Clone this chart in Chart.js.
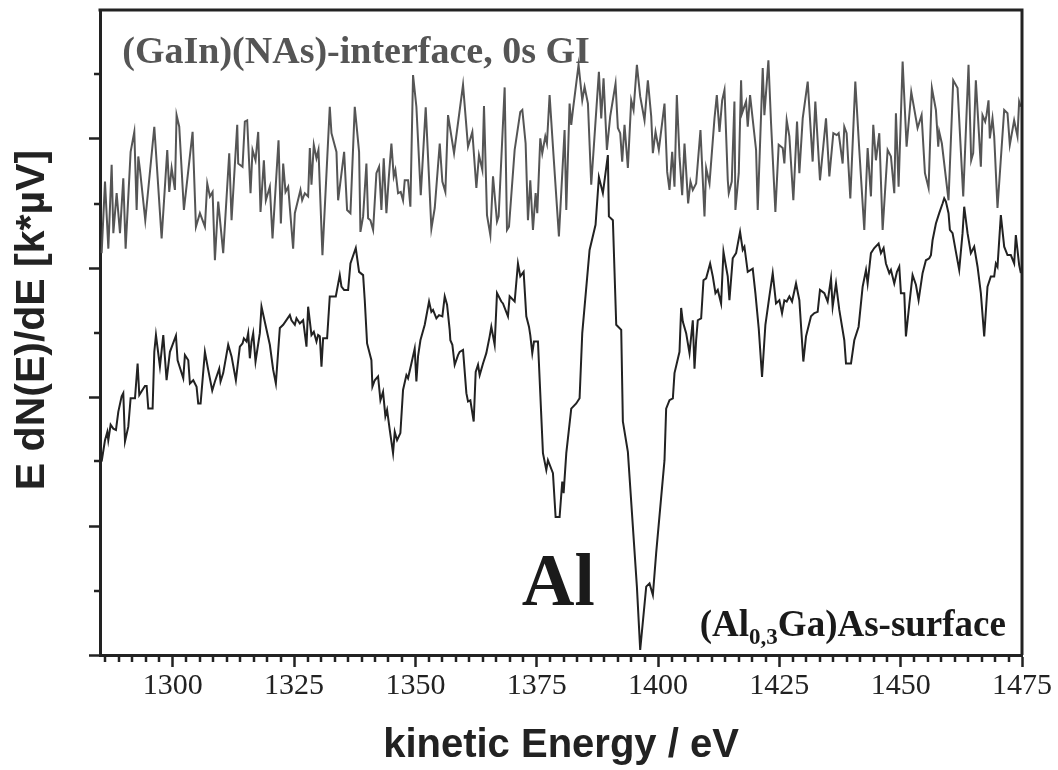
<!DOCTYPE html>
<html>
<head>
<meta charset="utf-8">
<script src="https://cdn.jsdelivr.net/npm/chart.js@4.4.0/dist/chart.umd.min.js"></script>
<style>
	html, body { margin: 0; padding: 0; background: #fff; }
	#spectrum { display: block; }
</style>
</head>
<body>
<canvas id="spectrum" width="1058" height="770"></canvas>
<script>
const xTicks = [ 1300, 1325, 1350, 1375, 1400, 1425, 1450, 1475 ];
const yMajor = [ 0, 2, 4, 6, 8 ];
const yMinor = [ 1, 3, 5, 7, 9 ];

// (GaIn)(NAs)-interface, 0s GI  (grey, upper trace)
const interfaceEnergy = [
	1285.34, 1286.03, 1286.72, 1287.40, 1287.75, 1288.43, 1289.12, 1289.80, 1290.28, 1291.31,
	1292.07, 1292.55, 1292.89, 1293.24, 1294.33, 1296.19, 1297.70, 1298.86, 1299.27, 1299.76,
	1300.44, 1300.78, 1301.33, 1302.29, 1304.08, 1304.77, 1305.59, 1306.62, 1307.10, 1307.65,
	1308.20, 1308.68, 1309.36, 1310.39, 1311.63, 1312.11, 1313.28, 1313.48, 1314.37, 1314.85,
	1315.33, 1316.02, 1316.43, 1317.05, 1317.60, 1318.08, 1318.77, 1319.18, 1320.00, 1320.55,
	1321.79, 1322.27, 1322.75, 1323.23, 1323.78, 1324.80, 1325.15, 1326.31, 1326.66, 1327.21,
	1327.89, 1328.24, 1328.58, 1329.06, 1329.61, 1330.02, 1330.84, 1332.35, 1332.70, 1333.73,
	1334.07, 1335.31, 1335.92, 1336.61, 1337.50, 1338.39, 1338.67, 1339.22, 1339.90, 1340.25,
	1340.73, 1341.28, 1341.96, 1342.51, 1342.99, 1343.47, 1344.02, 1344.50, 1345.05, 1345.53,
	1345.87, 1346.42, 1346.97, 1347.45, 1347.80, 1348.48, 1348.96, 1349.51, 1350.20, 1351.10,
	1352.12, 1353.29, 1353.98, 1355.01, 1355.55, 1356.17, 1356.72, 1357.96, 1359.81, 1360.84,
	1361.73, 1362.56, 1363.10, 1363.79, 1364.13, 1364.75, 1365.44, 1365.99, 1366.81, 1367.15,
	1368.39, 1368.87, 1369.28, 1370.45, 1371.61, 1372.03, 1372.71, 1373.19, 1373.67, 1374.22,
	1374.77, 1375.11, 1375.73, 1376.14, 1376.76, 1377.10, 1377.65, 1378.34, 1379.57, 1380.74,
	1381.09, 1381.77, 1382.11, 1382.46, 1383.62, 1384.38, 1384.86, 1385.55, 1386.23, 1387.81,
	1388.29, 1388.77, 1389.46, 1390.14, 1391.24, 1391.72, 1392.20, 1392.61, 1393.09, 1393.78,
	1394.47, 1394.95, 1395.64, 1396.32, 1397.21, 1397.90, 1398.59, 1398.93, 1399.48, 1400.16,
	1401.33, 1401.88, 1402.36, 1402.91, 1403.39, 1403.87, 1404.42, 1404.97, 1405.45, 1406.20,
	1406.68, 1407.16, 1407.85, 1408.74, 1409.57, 1409.91, 1410.60, 1411.63, 1412.11, 1412.66,
	1413.21, 1413.69, 1414.37, 1414.57, 1415.19, 1415.74, 1415.94, 1416.63, 1417.11, 1417.31,
	1418.14, 1418.48, 1418.96, 1420.20, 1420.54, 1421.57, 1421.91, 1422.74, 1423.29, 1424.18,
	1424.86, 1425.69, 1426.03, 1426.51, 1427.06, 1427.88, 1428.64, 1429.12, 1429.81, 1430.84,
	1431.86, 1432.41, 1433.37, 1434.61, 1435.30, 1436.12, 1436.81, 1437.22, 1438.04, 1438.38,
	1438.86, 1439.62, 1440.65, 1441.47, 1442.50, 1443.19, 1443.87, 1444.35, 1444.90, 1445.59,
	1446.28, 1447.31, 1447.99, 1448.68, 1449.02, 1449.57, 1450.40, 1451.22, 1452.18, 1453.48,
	1454.31, 1455.00, 1455.75, 1456.43, 1457.26, 1457.74, 1457.94, 1458.49, 1459.86, 1460.83,
	1461.72, 1462.89, 1463.98, 1464.53, 1464.94, 1465.49, 1466.52, 1466.86, 1467.41, 1467.69,
	1468.10, 1468.37, 1468.92, 1469.27, 1469.95, 1471.33, 1472.01, 1472.49, 1473.38, 1474.07,
	1474.41, 1474.75
];
const interfaceSignal = [
	6.23, 7.34, 6.30, 7.60, 6.54, 7.16, 6.54, 7.39, 6.30, 7.80,
	8.11, 6.90, 7.73, 7.52, 6.74, 8.19, 6.46, 7.83, 7.18, 7.55,
	7.21, 8.37, 8.19, 6.90, 8.11, 6.64, 6.85, 6.64, 7.31, 7.11,
	7.18, 6.12, 7.03, 6.23, 7.78, 6.74, 8.22, 7.62, 7.57, 8.27,
	8.29, 7.16, 7.83, 7.67, 8.11, 6.87, 7.67, 7.05, 7.26, 6.46,
	7.98, 6.69, 7.62, 7.18, 7.26, 6.30, 6.85, 7.21, 7.05, 7.16,
	7.11, 7.86, 7.29, 7.91, 7.70, 7.83, 6.20, 8.50, 8.09, 7.80,
	7.05, 7.80, 6.90, 6.85, 8.50, 7.80, 6.56, 6.80, 7.62, 6.77,
	6.74, 6.59, 7.47, 7.57, 6.90, 7.70, 6.85, 7.39, 7.93, 7.42,
	7.52, 7.16, 7.18, 7.05, 7.36, 7.36, 6.95, 8.99, 8.50, 7.13,
	8.49, 6.61, 6.93, 7.93, 7.34, 7.18, 8.37, 7.78, 8.84, 7.88,
	8.11, 7.24, 7.75, 7.52, 8.51, 6.82, 6.51, 7.42, 6.72, 6.80,
	8.80, 6.59, 6.64, 7.83, 8.42, 8.45, 7.93, 6.74, 7.36, 6.59,
	7.16, 6.85, 8.01, 7.78, 8.04, 7.93, 8.68, 7.88, 6.49, 8.14,
	6.90, 8.55, 8.22, 8.45, 9.15, 8.60, 8.81, 8.55, 7.29, 9.04,
	8.32, 8.94, 7.83, 8.35, 8.86, 8.17, 8.09, 7.65, 8.22, 7.55,
	8.60, 8.45, 9.15, 8.66, 8.29, 8.91, 8.35, 7.78, 8.11, 7.83,
	8.55, 7.49, 7.21, 7.80, 7.26, 8.68, 7.73, 7.13, 7.93, 7.00,
	7.34, 7.21, 7.31, 8.14, 6.80, 7.55, 7.31, 8.32, 8.68, 8.11,
	8.60, 8.76, 7.36, 7.16, 7.34, 8.58, 6.90, 7.47, 8.91, 8.40,
	8.58, 8.19, 8.68, 7.83, 6.90, 9.10, 8.37, 9.22, 8.24, 6.87,
	7.91, 7.86, 7.62, 8.29, 8.04, 7.05, 8.27, 7.47, 8.32, 8.89,
	7.65, 8.58, 7.36, 8.32, 7.42, 8.09, 8.06, 8.09, 7.62, 8.19,
	8.09, 7.08, 8.89, 7.83, 6.59, 7.86, 7.11, 8.22, 7.67, 8.09,
	6.59, 7.83, 7.73, 7.16, 8.40, 7.26, 9.20, 7.88, 8.73, 8.17,
	8.37, 7.47, 7.24, 8.79, 8.45, 7.88, 8.11, 7.93, 7.05, 8.91,
	8.79, 7.11, 9.15, 7.67, 7.78, 8.91, 7.57, 8.37, 8.27, 8.37,
	8.60, 8.01, 8.32, 8.04, 6.93, 8.45, 8.40, 7.91, 8.29, 8.04,
	8.58, 8.50
];

// (Al0,3Ga)As-surface  (black, lower trace)
const surfaceEnergy = [
	1285.34, 1286.03, 1286.51, 1286.71, 1287.19, 1287.74, 1288.29, 1288.77, 1289.46, 1289.80,
	1290.15, 1290.83, 1291.31, 1292.21, 1292.75, 1293.10, 1294.26, 1294.61, 1294.95, 1295.84,
	1296.19, 1296.53, 1297.35, 1298.04, 1298.72, 1299.41, 1300.65, 1300.99, 1302.16, 1302.50,
	1303.19, 1303.53, 1304.22, 1304.90, 1305.24, 1305.73, 1306.62, 1307.30, 1308.13, 1308.68,
	1309.57, 1309.84, 1310.39, 1311.42, 1312.11, 1313.00, 1313.82, 1314.37, 1314.65, 1315.20,
	1315.54, 1315.88, 1316.23, 1316.57, 1317.05, 1317.94, 1318.28, 1320.00, 1320.69, 1321.24,
	1322.06, 1322.75, 1324.12, 1324.46, 1325.15, 1325.49, 1326.18, 1326.86, 1327.55, 1327.89,
	1328.58, 1329.06, 1329.61, 1329.95, 1330.30, 1330.64, 1330.98, 1331.80, 1332.35, 1333.59,
	1334.41, 1334.76, 1335.30, 1336.13, 1336.61, 1337.71, 1338.39, 1339.22, 1339.56, 1340.04,
	1340.93, 1341.14, 1341.62, 1342.30, 1342.79, 1343.33, 1343.81, 1344.16, 1344.71, 1345.39,
	1345.74, 1346.22, 1346.90, 1347.45, 1348.14, 1348.48, 1349.17, 1349.85, 1350.20, 1350.54,
	1351.03, 1351.92, 1352.81, 1353.29, 1353.63, 1354.32, 1354.87, 1355.55, 1356.04, 1356.52,
	1357.06, 1357.20, 1357.61, 1358.09, 1358.78, 1359.12, 1359.81, 1360.50, 1360.84, 1361.32,
	1362.01, 1362.42, 1362.90, 1363.24, 1363.93, 1364.61, 1365.30, 1365.64, 1366.33, 1366.81,
	1367.70, 1368.04, 1369.07, 1369.42, 1370.45, 1371.13, 1371.61, 1372.30, 1372.85, 1373.40,
	1373.67, 1374.08, 1374.43, 1375.25, 1376.28, 1376.97, 1377.31, 1378.34, 1378.89, 1379.71,
	1380.26, 1380.54, 1381.09, 1382.11, 1383.14, 1383.83, 1384.38, 1385.89, 1387.12, 1387.81,
	1388.63, 1389.66, 1389.87, 1390.69, 1391.38, 1392.41, 1392.75, 1393.78, 1395.64, 1396.32,
	1397.56, 1398.24, 1398.93, 1399.61, 1401.33, 1401.67, 1402.36, 1403.05, 1403.39, 1404.42,
	1404.76, 1405.10, 1405.79, 1406.48, 1407.16, 1407.51, 1407.85, 1408.19, 1408.88, 1409.36,
	1409.91, 1410.73, 1411.28, 1411.83, 1412.31, 1412.99, 1413.48, 1413.89, 1414.36, 1414.71,
	1415.39, 1416.08, 1416.90, 1417.45, 1417.80, 1418.48, 1419.51, 1420.06, 1420.75, 1421.43,
	1422.12, 1422.94, 1423.63, 1424.31, 1425.00, 1425.55, 1426.03, 1426.51, 1427.06, 1427.61,
	1428.43, 1429.12, 1429.94, 1430.49, 1431.52, 1432.21, 1432.89, 1433.37, 1434.27, 1434.95,
	1435.64, 1435.98, 1436.67, 1437.35, 1438.38, 1438.73, 1439.76, 1440.44, 1441.33, 1442.16,
	1442.85, 1443.19, 1443.87, 1444.56, 1445.45, 1445.93, 1446.48, 1446.96, 1447.65, 1447.99,
	1448.68, 1449.23, 1449.71, 1450.05, 1450.74, 1451.08, 1451.77, 1452.45, 1453.14, 1453.69,
	1454.51, 1455.20, 1455.89, 1456.23, 1456.57, 1457.26, 1457.94, 1458.63, 1458.97, 1459.32,
	1459.86, 1460.14, 1460.69, 1461.38, 1462.06, 1462.75, 1463.09, 1463.78, 1464.46, 1465.15,
	1465.84, 1466.52, 1467.21, 1467.89, 1468.58, 1469.27, 1469.61, 1469.95, 1470.64, 1471.33,
	1472.01, 1472.70, 1473.39, 1473.73, 1474.41, 1474.76
];
const surfaceSignal = [
	3.00, 3.33, 3.46, 3.33, 3.57, 3.51, 3.49, 3.77, 4.01, 4.06,
	3.31, 3.54, 3.98, 3.98, 4.52, 4.03, 4.17, 4.17, 3.82, 3.82,
	4.70, 4.96, 4.47, 4.96, 4.26, 4.70, 4.95, 4.57, 4.29, 4.65,
	4.57, 4.21, 4.26, 4.16, 3.90, 3.90, 4.70, 4.42, 4.10, 4.24,
	4.44, 4.24, 4.37, 4.81, 4.63, 4.26, 4.78, 4.83, 4.91, 4.86,
	4.99, 4.60, 4.86, 4.99, 4.55, 4.99, 5.40, 4.81, 4.42, 4.21,
	5.07, 5.12, 5.27, 5.19, 5.12, 5.22, 5.14, 5.19, 4.78, 5.40,
	4.96, 5.01, 4.86, 4.96, 4.94, 4.47, 4.91, 4.91, 5.56, 5.56,
	5.89, 5.71, 5.66, 5.66, 6.07, 6.31, 5.94, 5.89, 5.50, 4.83,
	4.57, 4.16, 4.26, 4.32, 3.95, 4.08, 3.70, 3.80, 3.49, 3.13,
	3.46, 3.33, 3.44, 4.11, 4.34, 4.29, 4.52, 4.75, 4.24, 4.63,
	4.88, 5.12, 5.48, 5.32, 5.35, 5.22, 5.27, 5.25, 5.56, 5.43,
	5.04, 4.88, 4.81, 4.50, 4.65, 4.70, 4.73, 4.06, 3.93, 3.95,
	3.62, 4.39, 4.50, 4.34, 4.52, 4.68, 4.94, 5.09, 4.81, 5.61,
	5.48, 5.45, 5.25, 5.56, 5.48, 6.07, 5.87, 5.94, 5.25, 5.09,
	4.96, 4.68, 4.86, 4.86, 3.13, 2.87, 3.02, 2.82, 2.14, 2.14,
	2.69, 2.51, 3.13, 3.82, 3.90, 3.98, 4.99, 6.28, 6.67, 7.41,
	7.16, 7.75, 6.80, 6.74, 5.12, 5.04, 3.62, 3.15, 1.06, 0.08,
	1.06, 1.11, 0.93, 1.58, 3.02, 3.82, 3.95, 3.98, 4.37, 4.70,
	5.38, 5.17, 4.99, 4.68, 5.19, 4.44, 4.88, 5.19, 5.22, 5.81,
	5.84, 6.07, 5.87, 5.61, 5.66, 5.45, 6.25, 6.07, 5.87, 5.50,
	6.15, 6.23, 6.56, 6.28, 6.33, 5.94, 5.99, 5.61, 5.06, 4.31,
	5.12, 5.56, 5.92, 5.45, 5.50, 5.30, 5.50, 5.48, 5.56, 5.48,
	5.76, 5.50, 4.55, 4.94, 5.25, 5.30, 5.32, 5.66, 5.61, 5.48,
	5.84, 5.40, 5.76, 5.35, 4.88, 4.52, 4.52, 4.88, 5.09, 5.71,
	5.97, 5.76, 6.23, 6.31, 6.38, 6.23, 6.31, 6.07, 5.92, 5.97,
	5.76, 5.94, 6.02, 5.61, 5.61, 4.94, 5.43, 5.89, 5.74, 5.50,
	5.92, 6.12, 6.15, 6.20, 6.43, 6.69, 6.85, 7.00, 7.08, 7.03,
	6.85, 6.59, 6.54, 6.25, 5.97, 6.54, 6.95, 6.54, 6.23, 6.33,
	6.02, 5.61, 4.94, 5.71, 5.87, 5.87, 6.07, 6.02, 6.82, 6.33,
	6.20, 6.20, 6.07, 6.51, 6.05, 5.92
];

(function () {
	'use strict';

	const serif = '"Liberation Serif", "Times New Roman", serif',
		sans = '"Liberation Sans", Arial, sans-serif',
		ink = '#222';

	const toPoints = ( xs, ys ) => xs.map( ( x, i ) => ( { x: x, y: ys[ i ] } ) );

	// Box on top/right, minor ticks, y title and the in-plot labels
	const decorations = {
		id: 'decorations',
		afterDraw( chart ) {
			const { ctx, chartArea: area, scales: { x, y } } = chart;
			ctx.save();

			ctx.strokeStyle = ink;
			ctx.lineWidth = 3;
			ctx.beginPath();
			ctx.moveTo( area.left - 1.5, area.top );
			ctx.lineTo( area.right, area.top );
			ctx.lineTo( area.right, area.bottom );
			ctx.stroke();

			// minor ticks
			ctx.lineWidth = 2.5;
			ctx.beginPath();
			for ( let m = 1275; m < 1475; m += 25 ) {
				for ( let k = 1; k < 9; k++ ) {
					const v = m + k * 25 / 9;
					if ( v < x.min || v > x.max ) {
						continue;
					}
					const px = Math.round( x.getPixelForValue( v ) );
					ctx.moveTo( px, area.bottom );
					ctx.lineTo( px, area.bottom + 7 );
				}
			}
			for ( const v of yMinor ) {
				const py = Math.round( y.getPixelForValue( v ) );
				ctx.moveTo( area.left, py );
				ctx.lineTo( area.left - 6, py );
			}
			ctx.stroke();

			// y title
			ctx.save();
			ctx.translate( 33, 320 );
			ctx.rotate( -Math.PI / 2 );
			ctx.fillStyle = ink;
			ctx.font = 'bold 41px ' + sans;
			ctx.textAlign = 'center';
			ctx.textBaseline = 'middle';
			ctx.fillText( 'E dN(E)/dE [k*\u00b5V]', 0, 0 );
			ctx.restore();

			ctx.textBaseline = 'alphabetic';
			ctx.textAlign = 'left';

			ctx.fillStyle = '#555';
			ctx.font = 'bold 38px ' + serif;
			ctx.fillText( '(GaIn)(NAs)-interface, 0s GI', x.getPixelForValue( 1289.6 ), y.getPixelForValue( 9.18 ) );

			ctx.fillStyle = '#1a1a1a';
			ctx.font = 'bold 73px ' + serif;
			ctx.fillText( 'Al', x.getPixelForValue( 1371.9 ), y.getPixelForValue( 0.78 ) );

			// (Al0,3Ga)As-surface with subscript
			let px = x.getPixelForValue( 1408.6 );
			const base = y.getPixelForValue( 0.29 );
			ctx.font = 'bold 37px ' + serif;
			ctx.fillText( '(Al', px, base );
			px += ctx.measureText( '(Al' ).width;
			ctx.font = 'bold 23px ' + serif;
			ctx.fillText( '0,3', px, base + 8 );
			px += ctx.measureText( '0,3' ).width;
			ctx.font = 'bold 37px ' + serif;
			ctx.fillText( 'Ga)As-surface', px, base );

			ctx.restore();
		}
	};

	new Chart( document.getElementById( 'spectrum' ), {
		type: 'scatter',
		data: {
			datasets: [
				{
					label: '(GaIn)(NAs)-interface, 0s GI',
					data: toPoints( interfaceEnergy, interfaceSignal ),
					showLine: true,
					borderColor: '#555',
					borderWidth: 2,
					pointRadius: 0
				},
				{
					label: '(Al0,3Ga)As-surface',
					data: toPoints( surfaceEnergy, surfaceSignal ),
					showLine: true,
					borderColor: ink,
					borderWidth: 2,
					pointRadius: 0
				}
			]
		},
		options: {
			responsive: false,
			animation: false,
			layout: { padding: { left: 0, right: 36, top: 10, bottom: 0 } },
			plugins: {
				legend: { display: false },
				tooltip: { enabled: false }
			},
			scales: {
				x: {
					type: 'linear',
					min: 1285,
					max: 1475,
					afterBuildTicks: s => { s.ticks = xTicks.map( v => ( { value: v } ) ); },
					afterFit: s => { s.height = 115; },
					grid: { drawOnChartArea: false, tickLength: 12, tickWidth: 2.5, tickColor: ink },
					border: { color: ink, width: 3 },
					ticks: {
						font: { family: serif, size: 30 },
						color: ink,
						padding: 1,
						maxRotation: 0,
						autoSkip: false,
						callback: v => String( v )
					},
					title: {
						display: true,
						text: 'kinetic Energy / eV',
						color: ink,
						font: { family: sans, size: 40, weight: 'bold' },
						padding: { top: 0, bottom: 0 }
					}
				},
				y: {
					type: 'linear',
					min: 0,
					max: 10,
					afterBuildTicks: s => { s.ticks = yMajor.map( v => ( { value: v } ) ); },
					afterFit: s => { s.width = 100; },
					grid: { drawOnChartArea: false, tickLength: 11, tickWidth: 2.5, tickColor: ink },
					border: { color: ink, width: 3 },
					ticks: { display: false }
				}
			}
		},
		plugins: [ decorations ]
	} );
})();
</script>
</body>
</html>
